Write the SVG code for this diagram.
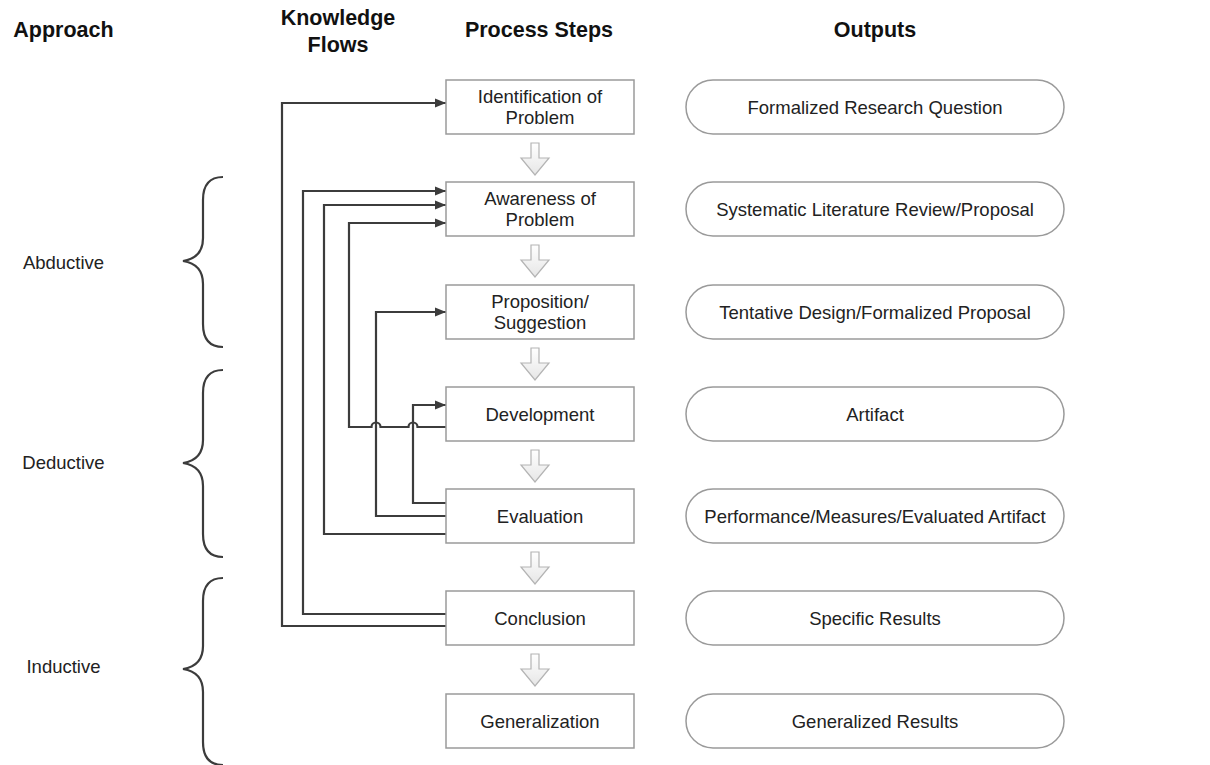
<svg xmlns="http://www.w3.org/2000/svg" width="1210" height="765" viewBox="0 0 1210 765">
<style>
.hdr{font-family:"Liberation Sans",Arial,sans-serif;font-weight:bold;font-size:21.5px;fill:#111;text-anchor:middle}
.lbl{font-family:"Liberation Sans",Arial,sans-serif;font-size:18.5px;fill:#222;text-anchor:middle}
.box{fill:#fff;stroke:#9a9a9a;stroke-width:1.5}
.pill{fill:#fff;stroke:#9a9a9a;stroke-width:1.5}
.flow{fill:none;stroke:#3c3c3c;stroke-width:2.2}
.brace{fill:none;stroke:#3c3c3c;stroke-width:2.2}
.down{fill:url(#dg);stroke:#b4b4b4;stroke-width:1.2}
</style>
<defs>
<linearGradient id="dg" x1="0" y1="0" x2="0" y2="1">
<stop offset="0" stop-color="#ffffff"/>
<stop offset="1" stop-color="#e6e6e6"/>
</linearGradient>
<marker id="ah" markerWidth="12" markerHeight="10" refX="11" refY="5" orient="auto" markerUnits="userSpaceOnUse">
<path d="M0,0.5 L11,5 L0,9.5 Z" fill="#3c3c3c"/>
</marker>
<path id="dn" d="M-4,0 H4 V15 H14 L0,32 L-14,15 H-4 Z"/>
</defs>
<rect width="1210" height="765" fill="#fff"/>

<g id="headers">
<text class="hdr" x="63.5" y="37">Approach</text>
<text class="hdr" x="338" y="25">Knowledge</text>
<text class="hdr" x="338" y="52">Flows</text>
<text class="hdr" x="539" y="37">Process Steps</text>
<text class="hdr" x="875" y="37">Outputs</text>
</g>

<g id="approach-abductive">
<path class="brace" d="M223,177 C209,177 203,186 203,200 L203,238 C203,251 196,259 183,261 C196,263 203,271 203,284 L203,324 C203,338 209,347 223,347"/>
<text class="lbl" x="63.5" y="269">Abductive</text>
</g>
<g id="approach-deductive">
<path class="brace" d="M223,370 C209,370 203,379 203,393 L203,440 C203,453 196,461 183,463 C196,465 203,473 203,486 L203,534 C203,548 209,557 223,557"/>
<text class="lbl" x="63.5" y="469">Deductive</text>
</g>
<g id="approach-inductive">
<path class="brace" d="M223,578 C209,578 203,587 203,601 L203,646 C203,659 196,667 183,669 C196,671 203,679 203,692 L203,742 C203,756 209,765 223,765"/>
<text class="lbl" x="63.5" y="673">Inductive</text>
</g>

<g id="step-arrows">
<use href="#dn" class="down" transform="translate(535,143)"/>
<use href="#dn" class="down" transform="translate(535,245)"/>
<use href="#dn" class="down" transform="translate(535,348)"/>
<use href="#dn" class="down" transform="translate(535,450)"/>
<use href="#dn" class="down" transform="translate(535,552)"/>
<use href="#dn" class="down" transform="translate(535,654)"/>
</g>

<g id="connectors">
<path class="flow" d="M446,626 H282 V103 H446" marker-end="url(#ah)"/>
<path class="flow" d="M446,614 H303 V191 H446" marker-end="url(#ah)"/>
<path class="flow" d="M446,534 H324 V205 H446" marker-end="url(#ah)"/>
<path class="flow" d="M446,427 H417.5 A4.5,4.5 0 0 0 408.5,427 H380.5 A4.5,4.5 0 0 0 371.5,427 H349 V223 H446" marker-end="url(#ah)"/>
<path class="flow" d="M446,516 H376 V312 H446" marker-end="url(#ah)"/>
<path class="flow" d="M446,503 H413 V405 H446" marker-end="url(#ah)"/>
</g>

<g id="step-identification">
<rect class="box" x="446" y="80" width="188" height="54"/>
<text class="lbl" x="540" y="103">Identification of</text>
<text class="lbl" x="540" y="124">Problem</text>
</g>
<g id="step-awareness">
<rect class="box" x="446" y="182" width="188" height="54"/>
<text class="lbl" x="540" y="205">Awareness of</text>
<text class="lbl" x="540" y="226">Problem</text>
</g>
<g id="step-proposition">
<rect class="box" x="446" y="285" width="188" height="54"/>
<text class="lbl" x="540" y="308">Proposition/</text>
<text class="lbl" x="540" y="329">Suggestion</text>
</g>
<g id="step-development">
<rect class="box" x="446" y="387" width="188" height="54"/>
<text class="lbl" x="540" y="420.5">Development</text>
</g>
<g id="step-evaluation">
<rect class="box" x="446" y="489" width="188" height="54"/>
<text class="lbl" x="540" y="522.5">Evaluation</text>
</g>
<g id="step-conclusion">
<rect class="box" x="446" y="591" width="188" height="54"/>
<text class="lbl" x="540" y="624.5">Conclusion</text>
</g>
<g id="step-generalization">
<rect class="box" x="446" y="694" width="188" height="54"/>
<text class="lbl" x="540" y="727.5">Generalization</text>
</g>

<g id="out-question">
<rect class="pill" x="686" y="80" width="378" height="54" rx="27"/>
<text class="lbl" x="875" y="113.5">Formalized Research Question</text>
</g>
<g id="out-review">
<rect class="pill" x="686" y="182" width="378" height="54" rx="27"/>
<text class="lbl" x="875" y="215.5">Systematic Literature Review/Proposal</text>
</g>
<g id="out-design">
<rect class="pill" x="686" y="285" width="378" height="54" rx="27"/>
<text class="lbl" x="875" y="318.5">Tentative Design/Formalized Proposal</text>
</g>
<g id="out-artifact">
<rect class="pill" x="686" y="387" width="378" height="54" rx="27"/>
<text class="lbl" x="875" y="420.5">Artifact</text>
</g>
<g id="out-performance">
<rect class="pill" x="686" y="489" width="378" height="54" rx="27"/>
<text class="lbl" x="875" y="522.5">Performance/Measures/Evaluated Artifact</text>
</g>
<g id="out-specific">
<rect class="pill" x="686" y="591" width="378" height="54" rx="27"/>
<text class="lbl" x="875" y="624.5">Specific Results</text>
</g>
<g id="out-generalized">
<rect class="pill" x="686" y="694" width="378" height="54" rx="27"/>
<text class="lbl" x="875" y="727.5">Generalized Results</text>
</g>
</svg>
